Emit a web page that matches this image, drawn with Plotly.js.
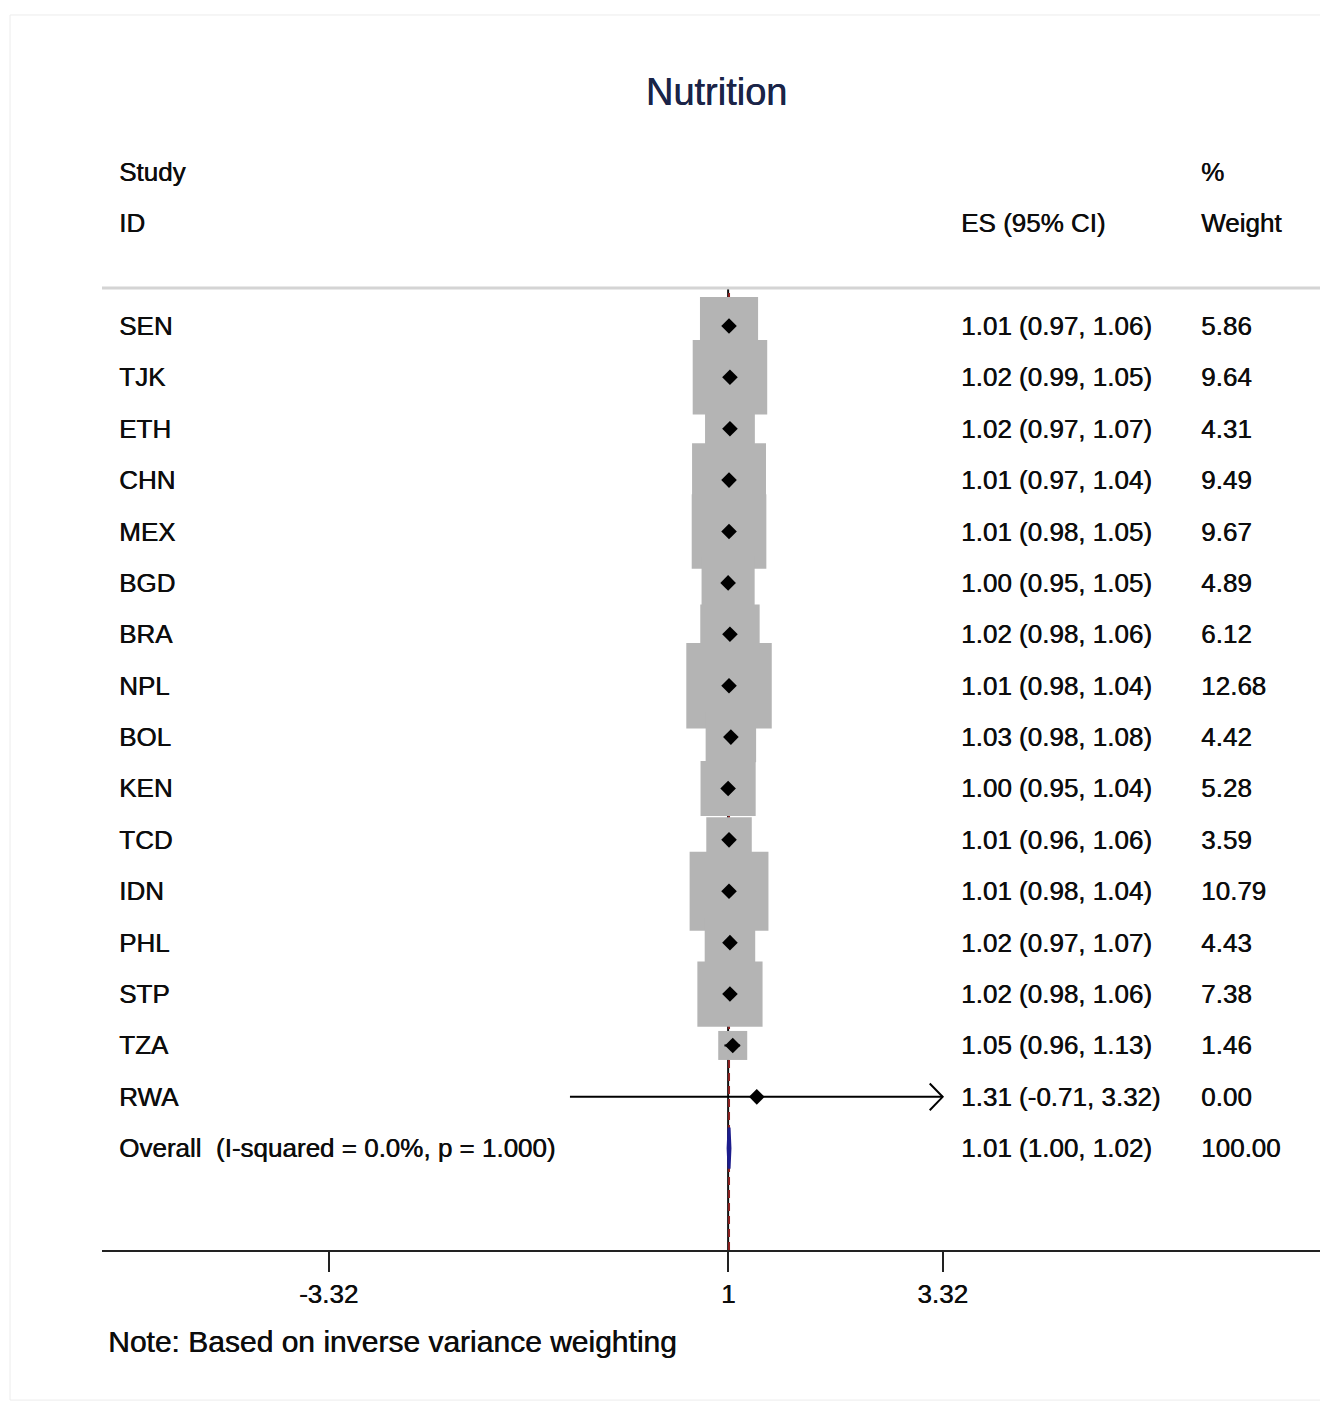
<!DOCTYPE html>
<html><head><meta charset="utf-8">
<script src="https://cdn.plot.ly/plotly-3.0.1.min.js"></script>
<style>html,body{margin:0;padding:0;background:#fff}#chart{width:1320px;height:1403px}</style>
</head><body><div id="chart"></div>
<script>
// ---- data ----
const studies = ["SEN","TJK","ETH","CHN","MEX","BGD","BRA","NPL","BOL","KEN","TCD","IDN","PHL","STP","TZA","RWA"];
const es      = [1.01,1.02,1.02,1.01,1.01,1.00,1.02,1.01,1.03,1.00,1.01,1.01,1.02,1.02,1.05,1.31];
const lci     = [0.97,0.99,0.97,0.97,0.98,0.95,0.98,0.98,0.98,0.95,0.96,0.98,0.97,0.98,0.96,-0.71];
const uci     = [1.06,1.05,1.07,1.04,1.05,1.05,1.06,1.04,1.08,1.04,1.06,1.04,1.07,1.06,1.13,3.32];
const weight  = [5.86,9.64,4.31,9.49,9.67,4.89,6.12,12.68,4.42,5.28,3.59,10.79,4.43,7.38,1.46,0.00];
const overallES = 1.01, overallLCI = 1.00, overallUCI = 1.02, overallWeight = 100.00;
const iSquared = 0.0, pValue = 1.000;
const nullValue = 1;
const tickVals = [-3.32, 1, 3.32];
const tickText = ["-3.32", "1", "3.32"];
const titleText = "Nutrition";
const noteText = "Note: Based on inverse variance weighting";

// ---- build ----
const FONT = "Liberation Sans, Arial, sans-serif";
const TXT = "#0d0d0d";
const SHADOW = "0.5px 0 0 #0d0d0d";
const n = studies.length;
const rows = studies.map((_, i) => i);
const overallRow = n;
const axisMax = Math.max(...tickVals);
const axisMin = Math.min(...tickVals);
const yRange = [overallRow + 1.98, -0.738];
const rowToPaper = r => (yRange[0] - r) / (yRange[0] - yRange[1]);

const traces = [];
// weight boxes
traces.push({
  type: "scatter", mode: "markers", x: es, y: rows, hoverinfo: "skip",
  marker: {symbol: "square", size: weight.map(w => 24 * Math.sqrt(w)), sizemode: "diameter",
           color: "rgb(180,180,180)", opacity: 1, line: {width: 0}}
});
// CI lines
const ciX = [], ciY = [];
rows.forEach(i => { ciX.push(Math.max(lci[i], axisMin - 10), Math.min(uci[i], axisMax), null); ciY.push(i, i, null); });
traces.push({type: "scatter", mode: "lines", x: ciX, y: ciY, line: {color: "#000", width: 2}, hoverinfo: "skip"});
// arrow chevrons where CI reaches axis max
const arX = [], arY = [];
rows.forEach(i => { if (uci[i] >= axisMax) { arX.push(uci[i] - 0.14, uci[i], uci[i] - 0.14, null); arY.push(i - 0.26, i, i + 0.26, null); } });
traces.push({type: "scatter", mode: "lines", x: arX, y: arY, line: {color: "#000", width: 2}, hoverinfo: "skip"});
// point estimates
traces.push({
  type: "scatter", mode: "markers", x: es, y: rows, hoverinfo: "skip",
  marker: {symbol: "diamond", size: 12, color: "#000", opacity: 1, line: {width: 0}}
});
// overall diamond
traces.push({
  type: "scatter", mode: "lines", fill: "toself", hoverinfo: "skip",
  x: [overallLCI, overallES, overallUCI, overallES, overallLCI],
  y: [overallRow, overallRow - 0.4, overallRow, overallRow + 0.4, overallRow],
  fillcolor: "#1c1c8c", line: {color: "#1c1c8c", width: 3}
});

// column positions (paper coords)
const colStudy = 0.0124, colES = 0.7037, colW = 0.9007;
const ann = [];
const addText = (x, r, t, opts = {}) => ann.push(Object.assign({
  xref: "paper", yref: "paper", x: x, y: rowToPaper(r), text: t, showarrow: false,
  xanchor: "left", yanchor: "middle", font: {family: FONT, size: 26, color: TXT, shadow: SHADOW}
}, opts));
addText(colStudy, -3, "Study");
addText(colStudy, -2, "ID");
addText(colES, -2, "ES (95% CI)");
addText(colW, -3, "%");
addText(colW, -2, "Weight");
rows.forEach(i => {
  addText(colStudy, i, studies[i]);
  addText(colES, i, `${es[i].toFixed(2)} (${lci[i].toFixed(2)}, ${uci[i].toFixed(2)})`);
  addText(colW, i, weight[i].toFixed(2));
});
addText(colStudy, overallRow, `Overall\u00a0 (I-squared = ${iSquared.toFixed(1)}%, p = ${pValue.toFixed(3)})`);
addText(colES, overallRow, `${overallES.toFixed(2)} (${overallLCI.toFixed(2)}, ${overallUCI.toFixed(2)})`);
addText(colW, overallRow, overallWeight.toFixed(2));
ann.push({xref: "paper", yref: "paper", x: 0.0033, y: -0.0946, text: noteText, showarrow: false,
  xanchor: "left", yanchor: "middle", font: {family: FONT, size: 30, color: TXT, shadow: SHADOW}});

const shapes = [
  {type: "rect", xref: "paper", yref: "paper", x0: -0.0755, x1: 1.2, y0: -0.156, y1: 1.2838,
   line: {color: "#ececec", width: 1}, fillcolor: "rgba(0,0,0,0)", layer: "below"},
  {type: "line", xref: "x", yref: "paper", x0: nullValue, x1: nullValue, y0: 0, y1: 1,
   line: {color: "#111", width: 2}, layer: "below"},
  {type: "line", xref: "x", yref: "paper", x0: overallES, x1: overallES, y0: 0, y1: 1,
   line: {color: "#8b2020", width: 2, dash: "8px,5px"}, layer: "below"},
  {type: "line", xref: "paper", yref: "paper", x0: 0, x1: 1, y0: 1, y1: 1,
   line: {color: "#d4d4d4", width: 3}}
];

const layout = {
  width: 1320, height: 1403,
  margin: {l: 102, r: 0, t: 288, b: 153, pad: 0},
  paper_bgcolor: "#fff", plot_bgcolor: "#fff",
  showlegend: false,
  title: {text: titleText, xref: "container", yref: "container", x: 0.5428, y: 1 - 92 / 1403,
          xanchor: "center", yanchor: "middle", font: {family: FONT, size: 38, color: "#1a2448", shadow: "0.5px 0 0 #1a2448"}},
  xaxis: {range: [-5.77, 7.40], tickvals: tickVals, ticktext: tickText, showgrid: false, zeroline: false,
          showline: true, linecolor: "#222", linewidth: 2, ticks: "outside", ticklen: 20, tickwidth: 2,
          tickcolor: "#222", tickfont: {family: FONT, size: 26, color: TXT, shadow: SHADOW}, fixedrange: true},
  yaxis: {range: yRange, showgrid: false, zeroline: false, showline: false,
          showticklabels: false, ticks: "", fixedrange: true},
  annotations: ann,
  shapes: shapes
};
Plotly.newPlot("chart", traces, layout, {staticPlot: true, displayModeBar: false});
</script></body></html>
